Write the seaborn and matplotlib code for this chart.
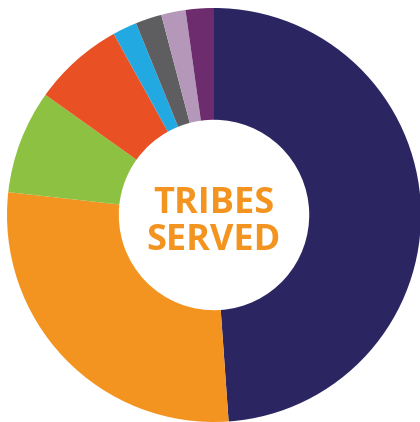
import matplotlib
matplotlib.use('Agg')
import matplotlib.pyplot as plt
import seaborn as sns

################################################################################

# share of tribes served, clockwise from 12 o'clock
groups = ['Group A', 'Group B', 'Group C', 'Group D', 'Group E', 'Group F', 'Group G', 'Group H']
shares = [48.9, 27.9, 8.1, 7.1, 1.9, 2.05, 1.9, 2.2]
colors = ['#2B2561', '#F39420', '#8CC141', '#E95125', '#23A9E1', '#5E5E60', '#B598B9', '#6C2C6E']
label_lines = ['TRIBES', 'SERVED']

################################################################################

sns.set_style('white')

fig = plt.figure(figsize = (4.2, 4.22), dpi = 100)
ax = fig.add_axes([0, 0, 1, 1])

ax.pie(
    shares,
    colors = sns.color_palette(colors),
    startangle = 90,
    counterclock = False,
    radius = 1,
    wedgeprops = dict(width = 0.54, linewidth = 0),
)

# baselines of the two label lines, in units of the outer radius
for line, base in zip(label_lines, [0.0097, -0.169]):
    ax.text(
        0, base, line,
        ha = 'center', va = 'baseline',
        color = '#F39420',
        fontsize = 26, fontweight = 'bold',
        family = ['Open Sans', 'DejaVu Sans'],
    )

ax.set_xlim(-214 / 207, 206 / 207)
ax.set_ylim(-1, 215 / 207)
ax.set_aspect('auto')
ax.axis('off')

fig.savefig('out.png', dpi = 100, facecolor = 'white')
